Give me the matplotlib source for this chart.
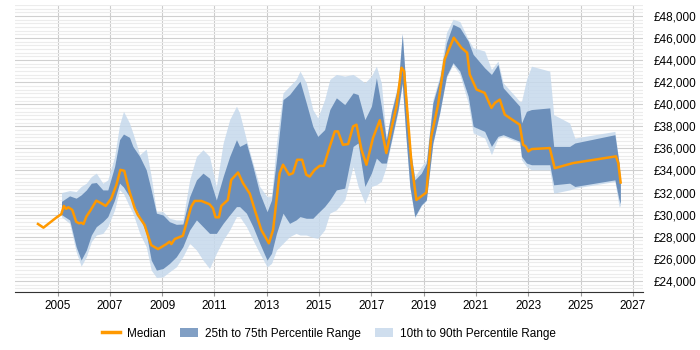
import matplotlib
matplotlib.use('Agg')
import matplotlib.pyplot as plt
from matplotlib.ticker import MultipleLocator, FixedLocator, FuncFormatter
from matplotlib.patches import Patch
from matplotlib.lines import Line2D

plt.rcParams['font.family'] = ['Liberation Sans', 'DejaVu Sans']

# percentile bands (year, p10, p25, p75, p90)
band_years = [2005.15, 2005.46, 2005.71, 2005.90, 2006.10, 2006.29, 2006.48, 2006.73, 2006.92,
              2007.18, 2007.37, 2007.52, 2007.75, 2007.88, 2008.14, 2008.39, 2008.58, 2008.78,
              2009.03, 2009.28, 2009.54, 2009.79, 2010.05, 2010.31, 2010.56, 2010.81, 2011.07,
              2011.33, 2011.58, 2011.84, 2011.96, 2012.22, 2012.47, 2012.73, 2013.01, 2013.18,
              2013.37, 2013.62, 2013.87, 2014.12, 2014.27, 2014.51, 2014.76, 2014.95, 2015.21,
              2015.41, 2015.66, 2015.98, 2016.30, 2016.49, 2016.75, 2017.00, 2017.19, 2017.38,
              2017.57, 2017.77, 2018.02, 2018.18, 2018.31, 2018.47, 2018.66, 2018.91, 2019.10,
              2019.35, 2019.61, 2019.87, 2020.12, 2020.38, 2020.70, 2020.89, 2021.33, 2021.59,
              2021.84, 2022.04, 2022.67, 2022.74, 2022.93, 2023.12, 2023.82, 2023.97, 2024.58,
              2024.78, 2026.31, 2026.47, 2026.52]
p10 = [29800, 29210, 26640, 25330, 26180, 27550, 28150, 28300, 28910,
       30430, 32240, 31900, 30730, 30130, 28300, 27090, 24970, 24310,
       24360, 24820, 25270, 26180, 27400, 26790, 25880, 25120, 26490,
       27700, 28610, 29820, 29820, 28910, 27700, 26490, 25270, 25580,
       26790, 27400, 28000, 28300, 28150, 28150, 27940, 27850, 28610,
       30130, 30430, 31330, 34360, 32550, 31030, 32550, 32700, 33000,
       34360, 36600, 39300, 41800, 37300, 32450, 29700, 30800, 31250,
       36400, 39100, 42400, 43600, 42700, 40120, 37400, 36940, 35430,
       36900, 37100, 36500, 34970, 34360, 34060, 34060, 31940, 32240,
       32400, 33000, 30730, 30800]
p25 = [30000, 29520, 27090, 25880, 26790, 28150, 28910, 29360, 29820,
       31330, 32850, 32500, 31630, 31030, 29820, 28300, 25880, 24970,
       25120, 25580, 26180, 27090, 28610, 29520, 28910, 28300, 28300,
       29210, 29970, 30730, 30730, 30130, 28910, 27400, 25880, 26490,
       28300, 30130, 29210, 29520, 29820, 29670, 29670, 30130, 30730,
       31330, 32240, 32400, 36180, 36490, 32550, 33760, 35120, 34670,
       34670, 36790, 39520, 41940, 37400, 32550, 29820, 30880, 31330,
       36490, 39220, 42550, 43760, 43000, 40730, 38000, 37540, 36180,
       37090, 37240, 36640, 35270, 34670, 34520, 34520, 32700, 32850,
       32550, 33150, 31330, 31000]
p75 = [31200, 31700, 31490, 31790, 32240, 32850, 32910, 32240, 32240,
       34360, 36790, 37300, 37000, 36180, 35270, 34060, 32240, 30130,
       29970, 29360, 29120, 29150, 31630, 33150, 33760, 33300, 31330,
       33450, 35270, 36790, 36180, 36490, 34360, 31940, 30270, 31330,
       34970, 40420, 40880, 41640, 42090, 40120, 38000, 37090, 37700,
       39520, 40580, 39970, 41030, 40880, 38610, 39820, 42400, 39820,
       36790, 39360, 41640, 46340, 41940, 36180, 33150, 33760, 34670,
       40120, 42250, 45580, 47240, 46940, 45730, 44520, 43300, 42700,
       43610, 41490, 39820, 38300, 39360, 39520, 39670, 36180, 36180,
       36490, 37240, 34670, 33000]
p90 = [32000, 32180, 32090, 32550, 32850, 33450, 33760, 32850, 33150,
       35270, 38150, 39360, 38300, 37400, 35430, 35940, 33450, 30270,
       30270, 29670, 29520, 29520, 33150, 35270, 35880, 35270, 32550,
       36490, 38610, 39820, 39220, 36790, 34670, 32550, 31630, 31630,
       36490, 41030, 41640, 42250, 43000, 41940, 39520, 38760, 40420,
       42250, 42700, 42550, 42700, 42400, 41940, 42550, 43450, 41940,
       36900, 39520, 41940, 46490, 42000, 36250, 33450, 34360, 34970,
       40420, 42550, 46490, 47700, 47500, 45880, 45120, 44820, 43150,
       43910, 41940, 40270, 40270, 42250, 43450, 43000, 39060, 38300,
       36940, 37540, 34670, 33100]

# median salary
med_years = [2004.25, 2004.46, 2004.95, 2005.14, 2005.24, 2005.32, 2005.41, 2005.56, 2005.71,
             2005.82, 2005.91, 2005.99, 2006.10, 2006.25, 2006.48, 2006.67, 2006.84, 2007.05,
             2007.25, 2007.40, 2007.55, 2007.75, 2007.95, 2008.07, 2008.33, 2008.45, 2008.58,
             2008.84, 2009.16, 2009.28, 2009.35, 2009.48, 2009.79, 2010.11, 2010.24, 2010.50,
             2010.81, 2010.94, 2011.04, 2011.17, 2011.26, 2011.51, 2011.64, 2011.90, 2012.09,
             2012.35, 2012.54, 2012.79, 2013.08, 2013.24, 2013.49, 2013.62, 2013.85, 2014.00,
             2014.16, 2014.35, 2014.51, 2014.64, 2014.83, 2015.02, 2015.18, 2015.41, 2015.60,
             2015.72, 2015.91, 2016.11, 2016.30, 2016.43, 2016.62, 2016.81, 2017.06, 2017.32,
             2017.57, 2017.77, 2017.96, 2018.15, 2018.25, 2018.41, 2018.53, 2018.72, 2019.10,
             2019.29, 2019.55, 2019.80, 2020.15, 2020.44, 2020.66, 2020.76, 2021.02, 2021.33,
             2021.59, 2021.72, 2021.91, 2022.10, 2022.67, 2022.80, 2022.90, 2023.00, 2023.13,
             2023.82, 2024.01, 2024.71, 2026.35, 2026.44, 2026.53]
median = [29155, 28820, 29730, 30040, 30790, 30520, 30670, 30430, 29360,
          29210, 29270, 29150, 29820, 30360, 31270, 31030, 30790, 31450,
          32700, 34060, 33970, 32090, 30580, 29970, 29060, 28150, 27240,
          26880, 27330, 27550, 27330, 27790, 28090, 30730, 31240, 31240,
          30940, 30580, 29760, 29760, 30790, 31330, 33150, 33820, 32850,
          31900, 30430, 28610, 27400, 28610, 33760, 34520, 33610, 33760,
          34970, 34970, 33610, 33450, 34060, 34420, 34420, 36180, 37540,
          37540, 36330, 36390, 38000, 38150, 35880, 34520, 36940, 38550,
          35580, 37850, 39820, 43310, 43000, 38300, 34670, 31330, 32000,
          37090, 39970, 44060, 46030, 45120, 44670, 42700, 41330, 41030,
          39670, 40120, 40420, 39060, 38150, 36330, 36180, 35730, 35940,
          36030, 34210, 34670, 35280, 34670, 32910]

year_ticks = [2005, 2007, 2009, 2011, 2013, 2015, 2017, 2019, 2021, 2023, 2025, 2027]

light_c = '#c6d9ec'
dark_c = '#6489b6'
orange = '#ff9900'

fig = plt.figure(figsize=(7, 3.5), dpi=100)
ax = fig.add_axes([0.021, 0.166, 0.897, 0.82])

ax.fill_between(band_years, p10, p90, color=light_c, alpha=0.85, lw=0, zorder=2)
ax.fill_between(band_years, p25, p75, color=dark_c, alpha=0.92, lw=0, zorder=3)
ax.plot(med_years, median, color=orange, lw=1.8, zorder=4)

ax.set_xlim(2003.36, 2027.37)
ax.set_ylim(23000, 49000)
ax.xaxis.set_major_locator(FixedLocator(year_ticks))
ax.xaxis.set_major_formatter(FuncFormatter(lambda v, p: f'{int(round(v))}'))
ax.yaxis.set_major_locator(MultipleLocator(2000))
ax.yaxis.set_minor_locator(MultipleLocator(2000 / 6))
ax.yaxis.set_major_formatter(FuncFormatter(lambda v, p: f'£{int(v):,}'))
ax.yaxis.tick_right()
ax.tick_params(axis='y', which='both', length=0, labelsize=8.5, pad=8)
ax.tick_params(axis='x', length=3, color='#999999', labelsize=8.5, pad=3)

ax.grid(axis='x', color='#cccccc', lw=0.8, zorder=0)
ax.grid(axis='y', which='major', color='#d0d0d0', lw=0.8, zorder=0)
ax.grid(axis='y', which='minor', color='#ececec', lw=0.8, zorder=0)
ax.set_axisbelow(True)
for s in ['top', 'right', 'left']:
    ax.spines[s].set_visible(False)
ax.spines['bottom'].set_color('#333333')

handles = [Line2D([0], [0], color=orange, lw=2.5),
           Patch(facecolor='#819fc4', edgecolor='none'),
           Patch(facecolor='#cfdeee', edgecolor='none')]
labels = ['Median', '25th to 75th Percentile Range', '10th to 90th Percentile Range']
fig.legend(handles, labels, loc='center', bbox_to_anchor=(0.47, 0.047), ncol=3, frameon=False,
           fontsize=8.5, handlelength=1.5, handletextpad=0.6, columnspacing=1.2)

fig.savefig('out.png', dpi=100)
